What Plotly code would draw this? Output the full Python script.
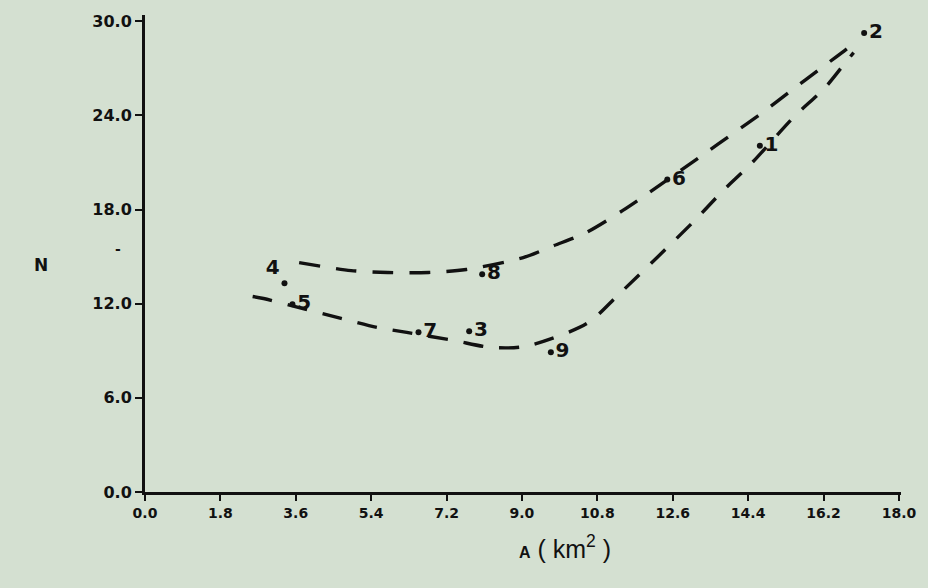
import plotly.graph_objects as go

# ---- data ----
point_labels = ["1", "2", "3", "4", "5", "6", "7", "8", "9"]
point_A = [14.68, 17.17, 7.74, 3.33, 3.52, 12.47, 6.53, 8.05, 9.69]
point_N = [22.07, 29.26, 10.24, 13.30, 11.96, 19.91, 10.18, 13.87, 8.91]

upper_A = [3.68, 4.92, 5.80, 6.77, 7.67, 9.03, 9.76, 10.53, 11.40, 12.00, 13.42, 14.06, 14.73, 15.42, 16.11, 16.75, 16.92]
upper_N = [14.62, 14.11, 13.99, 13.99, 14.18, 14.94, 15.70, 16.53, 17.93, 19.01, 21.68, 22.89, 24.16, 25.56, 26.95, 28.23, 28.60]

lower_A = [2.57, 2.83, 4.68, 5.54, 6.25, 7.37, 8.24, 9.08, 10.55, 11.31, 13.07, 13.80, 14.47, 15.49, 16.23, 16.75, 16.92]
lower_N = [12.46, 12.33, 11.06, 10.49, 10.17, 9.66, 9.22, 9.28, 10.74, 12.59, 17.16, 19.20, 20.92, 23.90, 25.75, 27.46, 28.00]

x_ticks = [0.0, 1.8, 3.6, 5.4, 7.2, 9.0, 10.8, 12.6, 14.4, 16.2, 18.0]
x_ticktext = ["0.0", "1.8", "3.6", "5.4", "7.2", "9.0", "10.8", "12.6", "14.4", "16.2", "18.0"]
y_ticks = [0, 6, 12, 18, 24, 30]
y_ticktext = ["0.0", "6.0", "12.0", "18.0", "24.0", "30.0"]

label_positions = ["middle right", "middle right", "middle right", "top left", "middle right",
                   "middle right", "middle right", "middle right", "middle right"]

BG = "#d4e0d1"
INK = "#111111"
FONT = "DejaVu Sans"

fig = go.Figure()

for xs, ys, dash in [(upper_A, upper_N, "21px,16px"), (lower_A, lower_N, "20px,16px")]:
    fig.add_trace(go.Scatter(
        x=xs, y=ys, mode="lines",
        line=dict(color=INK, width=3.4, dash=dash, shape="spline", smoothing=0.8),
        hoverinfo="skip", showlegend=False))

fig.add_trace(go.Scatter(
    x=point_A, y=point_N, mode="markers+text",
    marker=dict(color=INK, size=6),
    text=point_labels, textposition=label_positions,
    textfont=dict(family=FONT, size=20, color=INK, weight="bold"),
    showlegend=False))

fig.update_xaxes(
    range=[0, 18.05], tickvals=x_ticks, ticktext=x_ticktext,
    showline=True, linecolor=INK, linewidth=3,
    ticks="outside", ticklen=6, tickwidth=2, tickcolor=INK,
    tickfont=dict(family=FONT, size=14, color=INK, weight="bold"),
    showgrid=False, zeroline=False)

fig.update_yaxes(
    range=[0, 30.4], tickvals=y_ticks, ticktext=y_ticktext,
    showline=True, linecolor=INK, linewidth=3,
    ticks="outside", ticklen=7, tickwidth=2, tickcolor=INK,
    tickfont=dict(family=FONT, size=16, color=INK, weight="bold"),
    showgrid=False, zeroline=False)

fig.add_annotation(
    xref="paper", yref="paper", x=-0.15, y=0.475, showarrow=False,
    text="<b>N</b>", font=dict(family=FONT, size=17, color=INK))
fig.add_annotation(
    xref="paper", yref="paper", x=-0.042, y=0.51, showarrow=False,
    text="<b>-</b>", font=dict(family=FONT, size=14, color=INK))
fig.add_annotation(
    xref="paper", yref="paper", x=0.555, y=-0.115, yanchor="middle", showarrow=False,
    text="<span style='font-size:16px'><b>A</b></span> ( km<sup>2</sup> )",
    font=dict(family="Liberation Sans", size=25, color=INK))

fig.update_layout(
    width=928, height=588,
    margin=dict(l=145, r=23, t=14, b=96),
    paper_bgcolor=BG, plot_bgcolor=BG,
    showlegend=False)

fig.write_html("out.html")
